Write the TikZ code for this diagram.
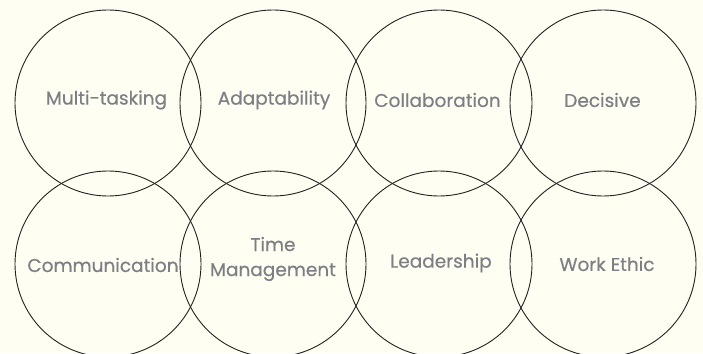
\documentclass[tikz,border=0pt]{standalone}
\usepackage{fontspec}
\setmainfont{Poppins}[FakeBold=0.4]
\definecolor{bg}{HTML}{FEFEF2}
\definecolor{ring}{HTML}{222222}
\definecolor{txt}{HTML}{7E7E85}
\begin{document}
\begin{tikzpicture}[x=1pt,y=-1pt,
  ring/.style={draw=ring,line width=0.9pt,circle,minimum size=186pt,inner sep=0pt},
  lbl/.style={text=txt,font=\fontsize{18.5}{25}\selectfont,align=center,inner sep=0pt}]
\fill[bg] (0,0) rectangle (703,353);
\useasboundingbox (0,0) rectangle (703,353);
\begin{scope}
\clip (0,0) rectangle (703,353);
\node[ring] (c1) at (108,103) {};
\node[ring] (c2) at (273,103) {};
\node[ring] (c3) at (439,103) {};
\node[ring] (c4) at (603,103) {};
\node[ring] (c5) at (108,264) {};
\node[ring] (c6) at (273,264) {};
\node[ring] (c7) at (439,264) {};
\node[ring] (c8) at (603,264) {};
\end{scope}
\node[lbl] (t1) at (106.5,100) {Multi-tasking};
\node[lbl] (t2) at (274,100) {Adaptability};
\node[lbl] (t3) at (437.5,100) {Collaboration};
\node[lbl] (t4) at (602.5,100) {Decisive};
\node[lbl] (t5) at (103,265) {Communication};
\node[lbl] (t6) at (273,259) {Time\\Management};
\node[lbl] (t7) at (441,263) {Leadership};
\node[lbl] (t8) at (607,264) {Work Ethic};
\end{tikzpicture}
\end{document}
